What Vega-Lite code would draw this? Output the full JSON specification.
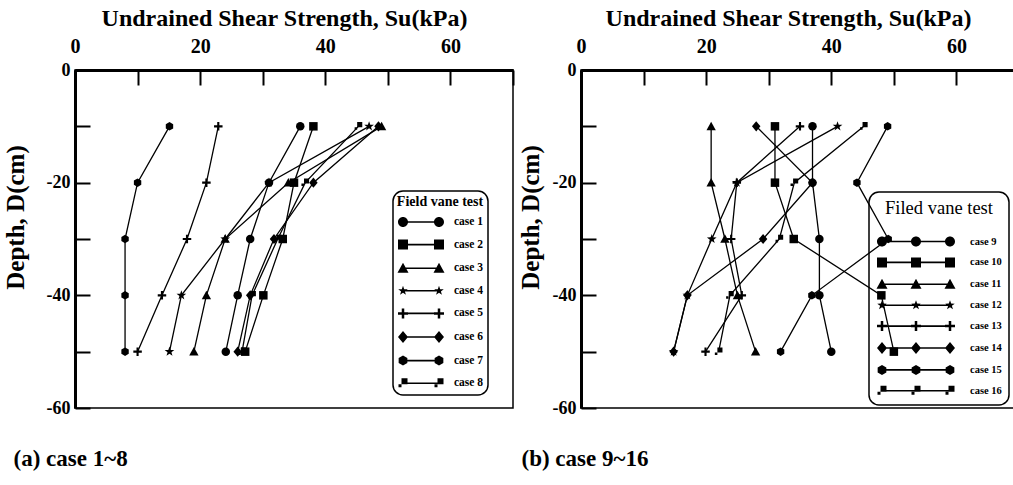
{
  "$schema": "https://vega.github.io/schema/vega-lite/v6.json",
  "padding": {"left": 2, "top": 5, "right": 0, "bottom": 0},
  "background": "white",
  "spacing": 2,
  "datasets": {
    "left": [
      {"case": "case 1", "depth": -10, "su": 36.0}, {"case": "case 1", "depth": -20, "su": 31.0}, {"case": "case 1", "depth": -30, "su": 28.0}, {"case": "case 1", "depth": -40, "su": 26.0}, {"case": "case 1", "depth": -50, "su": 24.1},
      {"case": "case 2", "depth": -10, "su": 38.1}, {"case": "case 2", "depth": -20, "su": 35.0}, {"case": "case 2", "depth": -30, "su": 33.2}, {"case": "case 2", "depth": -40, "su": 30.1}, {"case": "case 2", "depth": -50, "su": 27.2},
      {"case": "case 3", "depth": -10, "su": 49.0}, {"case": "case 3", "depth": -20, "su": 34.1}, {"case": "case 3", "depth": -30, "su": 24.0}, {"case": "case 3", "depth": -40, "su": 21.0}, {"case": "case 3", "depth": -50, "su": 19.0},
      {"case": "case 4", "depth": -10, "su": 47.0}, {"case": "case 4", "depth": -20, "su": 31.0}, {"case": "case 4", "depth": -30, "su": 24.0}, {"case": "case 4", "depth": -40, "su": 17.0}, {"case": "case 4", "depth": -50, "su": 15.1},
      {"case": "case 5", "depth": -10, "su": 22.9}, {"case": "case 5", "depth": -20, "su": 21.0}, {"case": "case 5", "depth": -30, "su": 17.9}, {"case": "case 5", "depth": -40, "su": 13.9}, {"case": "case 5", "depth": -50, "su": 10.0},
      {"case": "case 6", "depth": -10, "su": 48.5}, {"case": "case 6", "depth": -20, "su": 38.1}, {"case": "case 6", "depth": -30, "su": 31.8}, {"case": "case 6", "depth": -40, "su": 28.0}, {"case": "case 6", "depth": -50, "su": 26.0},
      {"case": "case 7", "depth": -10, "su": 15.1}, {"case": "case 7", "depth": -20, "su": 10.0}, {"case": "case 7", "depth": -30, "su": 8.0}, {"case": "case 7", "depth": -40, "su": 8.0}, {"case": "case 7", "depth": -50, "su": 8.0},
      {"case": "case 8", "depth": -10, "su": 45.3}, {"case": "case 8", "depth": -20, "su": 36.8}, {"case": "case 8", "depth": -30, "su": 32.4}, {"case": "case 8", "depth": -40, "su": 28.3}, {"case": "case 8", "depth": -50, "su": 26.7}
    ],
    "right": [
      {"case": "case 9", "depth": -10, "su": 37.0}, {"case": "case 9", "depth": -20, "su": 37.0}, {"case": "case 9", "depth": -30, "su": 38.1}, {"case": "case 9", "depth": -40, "su": 38.1}, {"case": "case 9", "depth": -50, "su": 40.0},
      {"case": "case 10", "depth": -10, "su": 31.0}, {"case": "case 10", "depth": -20, "su": 31.0}, {"case": "case 10", "depth": -30, "su": 34.0}, {"case": "case 10", "depth": -40, "su": 48.0}, {"case": "case 10", "depth": -50, "su": 50.0},
      {"case": "case 11", "depth": -10, "su": 20.8}, {"case": "case 11", "depth": -20, "su": 20.8}, {"case": "case 11", "depth": -30, "su": 23.0}, {"case": "case 11", "depth": -40, "su": 25.0}, {"case": "case 11", "depth": -50, "su": 27.9},
      {"case": "case 12", "depth": -10, "su": 41.0}, {"case": "case 12", "depth": -20, "su": 24.9}, {"case": "case 12", "depth": -30, "su": 20.9}, {"case": "case 12", "depth": -40, "su": 17.0}, {"case": "case 12", "depth": -50, "su": 14.8},
      {"case": "case 13", "depth": -10, "su": 35.0}, {"case": "case 13", "depth": -20, "su": 24.9}, {"case": "case 13", "depth": -30, "su": 24.0}, {"case": "case 13", "depth": -40, "su": 25.7}, {"case": "case 13", "depth": -50, "su": 19.9},
      {"case": "case 14", "depth": -10, "su": 28.0}, {"case": "case 14", "depth": -20, "su": 37.0}, {"case": "case 14", "depth": -30, "su": 29.1}, {"case": "case 14", "depth": -40, "su": 17.0}, {"case": "case 14", "depth": -50, "su": 14.8},
      {"case": "case 15", "depth": -10, "su": 49.0}, {"case": "case 15", "depth": -20, "su": 44.1}, {"case": "case 15", "depth": -30, "su": 49.1}, {"case": "case 15", "depth": -40, "su": 36.9}, {"case": "case 15", "depth": -50, "su": 31.9},
      {"case": "case 16", "depth": -10, "su": 45.2}, {"case": "case 16", "depth": -20, "su": 34.1}, {"case": "case 16", "depth": -30, "su": 31.7}, {"case": "case 16", "depth": -40, "su": 23.8}, {"case": "case 16", "depth": -50, "su": 22.0}
    ]
  },
  "hconcat": [
    {
      "width": 438,
      "height": 338,
      "data": {"name": "left"},
      "title": {"text": "(a) case 1~8", "orient": "bottom", "anchor": "start", "frame": "bounds", "offset": 31, "dx": 10, "font": "Liberation Serif", "fontSize": 23, "fontWeight": "bold", "color": "black"},
      "layer": [
        {
          "mark": {"type": "line", "color": "black", "strokeWidth": 1.3},
          "encoding": {
            "x": {"field": "su", "type": "quantitative", "scale": {"domain": [0, 70], "nice": false, "zero": false},
              "axis": {"orient": "top", "title": "Undrained Shear Strength, Su(kPa)", "titleX": 209, "values": [0, 10, 20, 30, 40, 50, 60, 70], "labelExpr": "datum.value % 20 == 0 && datum.value < 70 ? datum.label : ''", "labelFlush": false, "labelFontSize": 20, "tickSize": -15, "labelPadding": 28.5, "titlePadding": 6}},
            "y": {"field": "depth", "type": "quantitative", "scale": {"domain": [-60, 0], "nice": false, "zero": false},
              "axis": {"title": "Depth, D(cm)", "titleFontSize": 25, "titleY": 147, "values": [0, -10, -20, -30, -40, -50, -60], "labelExpr": "datum.value % 20 == 0 ? '' + datum.value : ''", "labelFontSize": 18, "tickSize": -15, "labelPadding": 20, "titlePadding": 17.5}},
            "detail": {"field": "case", "type": "nominal"},
            "order": {"field": "depth", "type": "quantitative"}
          }
        },
        {
          "mark": {"type": "point", "filled": true, "color": "black", "opacity": 1, "size": 72},
          "encoding": {
            "x": {"field": "su", "type": "quantitative"},
            "y": {"field": "depth", "type": "quantitative"},
            "shape": {"field": "case", "type": "nominal",
              "scale": {"domain": ["case 1", "case 2", "case 3", "case 4", "case 5", "case 6", "case 7", "case 8"],
                "range": ["circle", "square", "M0,-1.1L1.1,0.9L-1.1,0.9Z", "M0,-1.2L0.282,-0.389L1.141,-0.371L0.456,0.149L0.706,0.971L0,0.48L-0.706,0.971L-0.456,0.149L-1.141,-0.371L-0.282,-0.389Z", "M-0.25,-1L0.25,-1L0.25,-0.25L1,-0.25L1,0.25L0.25,0.25L0.25,1L-0.25,1L-0.25,0.25L-1,0.25L-1,-0.25L-0.25,-0.25Z", "M0,-1.2L1,0L0,1.2L-1,0Z", "M0,-1L0.87,-0.5L0.87,0.5L0,1L-0.87,0.5L-0.87,-0.5Z", "M-0.3,-1L0.9,-1L0.9,0.2L-0.3,0.2ZM-0.9,0.2L-0.3,0.2L-0.3,0.8L-0.9,0.8Z"]},
              "legend": null}
          }
        },
        {
          "mark": {"type": "point", "filled": true, "color": "black", "stroke": "black", "strokeWidth": 1.5, "opacity": 0, "size": 100},
          "encoding": {
            "x": {"field": "su", "type": "quantitative"},
            "y": {"field": "depth", "type": "quantitative"},
            "shape": {"field": "case", "type": "nominal",
              "scale": {"domain": ["case 1", "case 2", "case 3", "case 4", "case 5", "case 6", "case 7", "case 8"],
                "range": [
                  "M0,-0.16L7.2,-0.16L7.2,0.16L0,0.16ZM-1,0A1,1,0,1,1,1,0A1,1,0,1,1,-1,0ZM6.2,0A1,1,0,1,1,8.2,0A1,1,0,1,1,6.2,0Z",
                  "M0,-0.16L7.2,-0.16L7.2,0.16L0,0.16ZM-1,-1L1,-1L1,1L-1,1ZM6.2,-1L8.2,-1L8.2,1L6.2,1Z",
                  "M0,-0.16L7.2,-0.16L7.2,0.16L0,0.16ZM0,-1.1L1.1,0.9L-1.1,0.9ZM7.2,-1.1L8.3,0.9L6.1,0.9Z",
                  "M0,-0.16L7.2,-0.16L7.2,0.16L0,0.16ZM0,-1L0.235,-0.324L0.951,-0.309L0.38,0.124L0.588,0.809L0,0.4L-0.588,0.809L-0.38,0.124L-0.951,-0.309L-0.235,-0.324ZM7.2,-1L7.435,-0.324L8.151,-0.309L7.58,0.124L7.788,0.809L7.2,0.4L6.612,0.809L6.82,0.124L6.249,-0.309L6.965,-0.324Z",
                  "M0,-0.16L7.2,-0.16L7.2,0.16L0,0.16ZM-0.25,-1L0.25,-1L0.25,-0.25L1,-0.25L1,0.25L0.25,0.25L0.25,1L-0.25,1L-0.25,0.25L-1,0.25L-1,-0.25L-0.25,-0.25ZM6.95,-1L7.45,-1L7.45,-0.25L8.2,-0.25L8.2,0.25L7.45,0.25L7.45,1L6.95,1L6.95,0.25L6.2,0.25L6.2,-0.25L6.95,-0.25Z",
                  "M0,-0.16L7.2,-0.16L7.2,0.16L0,0.16ZM0,-1.2L1,0L0,1.2L-1,0ZM7.2,-1.2L8.2,0L7.2,1.2L6.2,0Z",
                  "M0,-0.16L7.2,-0.16L7.2,0.16L0,0.16ZM0,-1L0.87,-0.5L0.87,0.5L0,1L-0.87,0.5L-0.87,-0.5ZM7.2,-1L8.07,-0.5L8.07,0.5L7.2,1L6.33,0.5L6.33,-0.5Z",
                  "M0,-0.16L7.2,-0.16L7.2,0.16L0,0.16ZM-0.3,-1L0.9,-1L0.9,0.2L-0.3,0.2ZM-0.9,0.2L-0.3,0.2L-0.3,0.8L-0.9,0.8ZM6.9,-1L8.1,-1L8.1,0.2L6.9,0.2ZM6.3,0.2L6.9,0.2L6.9,0.8L6.3,0.8Z"
                ]},
              "legend": {"title": "Field vane test", "orient": "none", "legendX": 318, "legendY": 121, "padding": 4, "labelOffset": 45, "labelFontSize": 11.5, "labelFontWeight": "bold", "titleFontSize": 14, "titleFontWeight": "bold", "titlePadding": 7, "rowPadding": 6.6}}
          }
        }
      ],
      "resolve": {"scale": {"shape": "independent"}}
    },
    {
      "width": 438,
      "height": 338,
      "data": {"name": "right"},
      "title": {"text": "(b) case 9~16", "orient": "bottom", "anchor": "start", "frame": "bounds", "offset": 31, "dx": 3, "font": "Liberation Serif", "fontSize": 23, "fontWeight": "bold", "color": "black"},
      "layer": [
        {
          "mark": {"type": "line", "color": "black", "strokeWidth": 1.3},
          "encoding": {
            "x": {"field": "su", "type": "quantitative", "scale": {"domain": [0, 70], "nice": false, "zero": false},
              "axis": {"orient": "top", "title": "Undrained Shear Strength, Su(kPa)", "titleX": 207, "values": [0, 10, 20, 30, 40, 50, 60, 70], "labelExpr": "datum.value % 20 == 0 && datum.value < 70 ? datum.label : ''", "labelFlush": false, "labelFontSize": 20, "tickSize": -15, "labelPadding": 28.5, "titlePadding": 6}},
            "y": {"field": "depth", "type": "quantitative", "scale": {"domain": [-60, 0], "nice": false, "zero": false},
              "axis": {"title": "Depth, D(cm)", "titleFontSize": 25, "titleY": 147, "values": [0, -10, -20, -30, -40, -50, -60], "labelExpr": "datum.value % 20 == 0 ? '' + datum.value : ''", "labelFontSize": 18, "tickSize": -15, "labelPadding": 20, "titlePadding": 8.5}},
            "detail": {"field": "case", "type": "nominal"},
            "order": {"field": "depth", "type": "quantitative"}
          }
        },
        {
          "mark": {"type": "point", "filled": true, "color": "black", "opacity": 1, "size": 72},
          "encoding": {
            "x": {"field": "su", "type": "quantitative"},
            "y": {"field": "depth", "type": "quantitative"},
            "shape": {"field": "case", "type": "nominal",
              "scale": {"domain": ["case 9", "case 10", "case 11", "case 12", "case 13", "case 14", "case 15", "case 16"],
                "range": ["circle", "square", "M0,-1.1L1.1,0.9L-1.1,0.9Z", "M0,-1.2L0.282,-0.389L1.141,-0.371L0.456,0.149L0.706,0.971L0,0.48L-0.706,0.971L-0.456,0.149L-1.141,-0.371L-0.282,-0.389Z", "M-0.25,-1L0.25,-1L0.25,-0.25L1,-0.25L1,0.25L0.25,0.25L0.25,1L-0.25,1L-0.25,0.25L-1,0.25L-1,-0.25L-0.25,-0.25Z", "M0,-1.2L1,0L0,1.2L-1,0Z", "M0,-1L0.87,-0.5L0.87,0.5L0,1L-0.87,0.5L-0.87,-0.5Z", "M-0.3,-1L0.9,-1L0.9,0.2L-0.3,0.2ZM-0.9,0.2L-0.3,0.2L-0.3,0.8L-0.9,0.8Z"]},
              "legend": null}
          }
        },
        {
          "mark": {"type": "point", "filled": true, "color": "black", "stroke": "black", "strokeWidth": 1.5, "opacity": 0, "size": 100},
          "encoding": {
            "x": {"field": "su", "type": "quantitative"},
            "y": {"field": "depth", "type": "quantitative"},
            "shape": {"field": "case", "type": "nominal",
              "scale": {"domain": ["case 9", "case 10", "case 11", "case 12", "case 13", "case 14", "case 15", "case 16"],
                "range": [
                  "M0,-0.16L13.6,-0.16L13.6,0.16L0,0.16ZM-1,0A1,1,0,1,1,1,0A1,1,0,1,1,-1,0ZM5.8,0A1,1,0,1,1,7.8,0A1,1,0,1,1,5.8,0ZM12.6,0A1,1,0,1,1,14.6,0A1,1,0,1,1,12.6,0Z",
                  "M0,-0.16L13.6,-0.16L13.6,0.16L0,0.16ZM-1,-1L1,-1L1,1L-1,1ZM5.8,-1L7.8,-1L7.8,1L5.8,1ZM12.6,-1L14.6,-1L14.6,1L12.6,1Z",
                  "M0,-0.16L13.6,-0.16L13.6,0.16L0,0.16ZM0,-1.1L1.1,0.9L-1.1,0.9ZM6.8,-1.1L7.9,0.9L5.7,0.9ZM13.6,-1.1L14.7,0.9L12.5,0.9Z",
                  "M0,-0.16L13.6,-0.16L13.6,0.16L0,0.16ZM0,-1L0.235,-0.324L0.951,-0.309L0.38,0.124L0.588,0.809L0,0.4L-0.588,0.809L-0.38,0.124L-0.951,-0.309L-0.235,-0.324ZM6.8,-1L7.035,-0.324L7.751,-0.309L7.18,0.124L7.388,0.809L6.8,0.4L6.212,0.809L6.42,0.124L5.849,-0.309L6.565,-0.324ZM13.6,-1L13.835,-0.324L14.551,-0.309L13.98,0.124L14.188,0.809L13.6,0.4L13.012,0.809L13.22,0.124L12.649,-0.309L13.365,-0.324Z",
                  "M0,-0.16L13.6,-0.16L13.6,0.16L0,0.16ZM-0.25,-1L0.25,-1L0.25,-0.25L1,-0.25L1,0.25L0.25,0.25L0.25,1L-0.25,1L-0.25,0.25L-1,0.25L-1,-0.25L-0.25,-0.25ZM6.55,-1L7.05,-1L7.05,-0.25L7.8,-0.25L7.8,0.25L7.05,0.25L7.05,1L6.55,1L6.55,0.25L5.8,0.25L5.8,-0.25L6.55,-0.25ZM13.35,-1L13.85,-1L13.85,-0.25L14.6,-0.25L14.6,0.25L13.85,0.25L13.85,1L13.35,1L13.35,0.25L12.6,0.25L12.6,-0.25L13.35,-0.25Z",
                  "M0,-0.16L13.6,-0.16L13.6,0.16L0,0.16ZM0,-1.2L1,0L0,1.2L-1,0ZM6.8,-1.2L7.8,0L6.8,1.2L5.8,0ZM13.6,-1.2L14.6,0L13.6,1.2L12.6,0Z",
                  "M0,-0.16L13.6,-0.16L13.6,0.16L0,0.16ZM0,-1L0.87,-0.5L0.87,0.5L0,1L-0.87,0.5L-0.87,-0.5ZM6.8,-1L7.67,-0.5L7.67,0.5L6.8,1L5.93,0.5L5.93,-0.5ZM13.6,-1L14.47,-0.5L14.47,0.5L13.6,1L12.73,0.5L12.73,-0.5Z",
                  "M0,-0.16L13.6,-0.16L13.6,0.16L0,0.16ZM-0.3,-1L0.9,-1L0.9,0.2L-0.3,0.2ZM-0.9,0.2L-0.3,0.2L-0.3,0.8L-0.9,0.8ZM6.5,-1L7.7,-1L7.7,0.2L6.5,0.2ZM5.9,0.2L6.5,0.2L6.5,0.8L5.9,0.8ZM13.3,-1L14.5,-1L14.5,0.2L13.3,0.2ZM12.7,0.2L13.3,0.2L13.3,0.8L12.7,0.8Z"
                ]},
              "legend": {"title": "Filed vane test", "orient": "none", "legendX": 288, "legendY": 122, "padding": 7, "labelOffset": 82, "labelFontSize": 10.5, "labelFontWeight": "bold", "titleFontSize": 18.5, "titleFontWeight": "normal", "titlePadding": 18, "rowPadding": 4.9}}
          }
        }
      ],
      "resolve": {"scale": {"shape": "independent"}}
    }
  ],
  "config": {
    "view": {"stroke": "black", "strokeWidth": 1.5},
    "font": "Liberation Serif",
    "axis": {"grid": false, "domainColor": "black", "domainWidth": 3, "tickColor": "black", "tickWidth": 2, "labelColor": "black", "labelFont": "Liberation Serif", "labelFontWeight": "bold", "labelFontSize": 19, "titleFont": "Liberation Serif", "titleFontWeight": "bold", "titleFontSize": 24, "titleColor": "black"},
    "legend": {"strokeColor": "black", "strokeWidth": 1.5, "cornerRadius": 10, "symbolSize": 100, "symbolStrokeWidth": 1.5, "symbolFillColor": "black", "symbolStrokeColor": "black", "symbolOpacity": 1, "labelFont": "Liberation Serif", "labelColor": "black", "titleFont": "Liberation Serif", "titleColor": "black", "titleAnchor": "middle"}
  }
}
